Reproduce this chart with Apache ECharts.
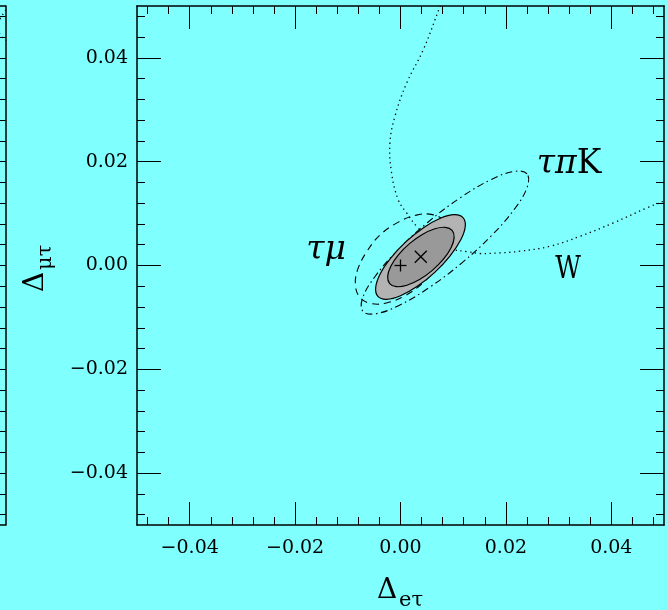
<!DOCTYPE html>
<html>
<head>
<meta charset="utf-8">
<script src="https://cdn.jsdelivr.net/npm/echarts@6/dist/echarts.min.js"></script>
<style>
  html, body { margin: 0; padding: 0; background: #80ffff; }
  #chart { width: 668px; height: 610px; }
</style>
</head>
<body>
<div id="chart"></div>
<script>
// Tick positions and labels (both axes span -0.05 .. 0.05)
const X_MAJOR = [-0.04, -0.02, 0, 0.02, 0.04];
const X_MINOR = [-0.048, -0.044, -0.036, -0.032, -0.028, -0.024, -0.016, -0.012, -0.008, -0.004,
                 0.004, 0.008, 0.012, 0.016, 0.024, 0.028, 0.032, 0.036, 0.044, 0.048];
const Y_MAJOR = [-0.04, -0.02, 0, 0.02, 0.04];
const Y_MINOR = X_MINOR.slice();
const X_TICK_LABELS = ['\u22120.04', '\u22120.02', '0.00', '0.02', '0.04'];
const Y_TICK_LABELS = ['\u22120.04', '\u22120.02', '0.00', '0.02', '0.04'];

// Combined fit: outer and inner confidence regions (Δeτ, Δμτ)
const outerRegion = [
  [0.01185, 0.00923], [0.01020, 0.00979], [0.00756, 0.00910], [0.00437, 0.00729],
  [0.00106, 0.00460], [-0.00182, 0.00146], [-0.00386, -0.00163], [-0.00471, -0.00425],
  [-0.00429, -0.00596], [-0.00264, -0.00652], [0.00000, -0.00583], [0.00319, -0.00402],
  [0.00650, -0.00133], [0.00938, 0.00181], [0.01141, 0.00490], [0.01229, 0.00752]
];
const innerRegion = [
  [0.00980, 0.00675], [0.00853, 0.00735], [0.00653, 0.00708], [0.00414, 0.00598],
  [0.00171, 0.00421], [-0.00040, 0.00206], [-0.00184, -0.00015], [-0.00243, -0.00212],
  [-0.00205, -0.00348], [-0.00078, -0.00408], [0.00122, -0.00381], [0.00361, -0.00271],
  [0.00604, -0.00094], [0.00815, 0.00121], [0.00959, 0.00342], [0.01018, 0.00537]
];
// τμ constraint (dashed)
const tauMuContour = [
  [0.00826, 0.00862], [0.00608, 0.00981], [0.00300, 0.00971], [-0.00049, 0.00831],
  [-0.00391, 0.00585], [-0.00640, 0.00267], [-0.00810, -0.00071], [-0.00855, -0.00379],
  [-0.00772, -0.00612], [-0.00564, -0.00731], [-0.00266, -0.00721], [0.00084, -0.00583],
  [0.00425, -0.00335], [0.00705, -0.00017], [0.00877, 0.00321], [0.00921, 0.00629]
];
// τπK constraint (dash-dot)
const tauPiKContour = [
  [0.02401, 0.01765], [0.02160, 0.01813], [0.01717, 0.01654], [0.01141, 0.01310],
  [0.00520, 0.00833], [-0.00051, 0.00296], [-0.00486, -0.00217], [-0.00720, -0.00631],
  [-0.00714, -0.00881], [-0.00473, -0.00929], [-0.00028, -0.00769], [0.00545, -0.00425],
  [0.01166, 0.00052], [0.01738, 0.00588], [0.02173, 0.01102], [0.02406, 0.01515]
];
// W constraint (dotted, open curve leaving the frame)
const wContour = [
  [0.00824, 0.05190], [0.00748, 0.04987], [0.00431, 0.04154], [0.00116, 0.03513],
  [-0.00106, 0.02871], [-0.00201, 0.02360], [-0.00169, 0.01783], [-0.00044, 0.01269],
  [0.00116, 0.01013], [0.00306, 0.00756], [0.00615, 0.00462], [0.01001, 0.00308],
  [0.01255, 0.00269], [0.01508, 0.00231], [0.01888, 0.00244], [0.02268, 0.00275],
  [0.02838, 0.00371], [0.03407, 0.00563], [0.04040, 0.00821], [0.04674, 0.01110],
  [0.04990, 0.01237], [0.05307, 0.01365]
];
// Reference point and best fit
const smPoint = [[0, 0]];
const bestFit = [[0.00385, 0.00170]];
// Sliver of the neighbouring panel (its right edge)
const neighbourCurve = [
  [0.05066, 0.05000], [0.04991, 0.04904], [0.04896, 0.04750], [0.04782, 0.04595],
  [0.04896, 0.04461], [0.05009, 0.04326]
];

const FONT = 'DejaVu Serif';
const INK = '#000';

function findLabel(values, labels, v) {
  for (let i = 0; i < values.length; i++) {
    if (Math.abs(values[i] - v) < 1e-9) return labels[i];
  }
  return '';
}

function makeAxis(gridIndex, side, ticks, len, showLine, labelCfg, range) {
  return {
    type: 'value', gridIndex: gridIndex, position: side,
    min: range ? range[0] : -0.05, max: range ? range[1] : 0.05,
    axisLine: { show: showLine, onZero: false, lineStyle: { color: INK, width: 1.5 } },
    axisTick: ticks ? { show: true, inside: true, length: len, customValues: ticks,
                         lineStyle: { color: INK, width: 1 } } : { show: false },
    axisLabel: labelCfg || { show: false },
    splitLine: { show: false },
    minorTick: { show: false }
  };
}

const xLabel = {
  show: true, customValues: X_MAJOR, margin: 14,
  fontFamily: FONT, fontSize: 19, color: INK,
  formatter: v => findLabel(X_MAJOR, X_TICK_LABELS, v)
};
const yLabel = {
  show: true, customValues: Y_MAJOR, margin: 9,
  fontFamily: FONT, fontSize: 19, color: INK,
  formatter: v => findLabel(Y_MAJOR, Y_TICK_LABELS, v)
};

const NEIGHBOUR_X = [0.048956, 0.05];
const xAxes = [
  makeAxis(0, 'bottom', X_MAJOR, 23, true, xLabel),
  makeAxis(0, 'bottom', X_MINOR, 8, false),
  makeAxis(0, 'top', X_MAJOR, 23, true),
  makeAxis(0, 'top', X_MINOR, 8, false),
  makeAxis(1, 'bottom', null, 0, true, null, NEIGHBOUR_X),
  makeAxis(1, 'top', null, 0, true, null, NEIGHBOUR_X)
];
const yAxes = [
  makeAxis(0, 'left', Y_MAJOR, 24, true, yLabel),
  makeAxis(0, 'left', Y_MINOR, 8, false),
  makeAxis(0, 'right', Y_MAJOR, 24, true),
  makeAxis(0, 'right', Y_MINOR, 8, false),
  makeAxis(1, 'right', Y_MAJOR, 24, true),
  makeAxis(1, 'right', Y_MINOR, 8, false)
];

function contour(points, style, closed) {
  return {
    type: 'custom', coordinateSystem: 'cartesian2d',
    xAxisIndex: 0, yAxisIndex: 0, clip: true, silent: true,
    data: [[0, 0]],
    renderItem: function (params, api) {
      return {
        type: closed ? 'polygon' : 'polyline',
        shape: { points: points.map(p => api.coord(p)), smooth: 0.4 },
        style: style
      };
    }
  };
}

function marker(points, kind) {
  return {
    type: 'custom', coordinateSystem: 'cartesian2d',
    xAxisIndex: 0, yAxisIndex: 0, silent: true, z: 5,
    data: points,
    renderItem: function (params, api) {
      const c = api.coord([api.value(0), api.value(1)]);
      const h = 6;
      const segs = kind === 'plus'
        ? [[c[0] - h, c[1], c[0] + h, c[1]], [c[0], c[1] - h, c[0], c[1] + h]]
        : [[c[0] - h, c[1] - h, c[0] + h, c[1] + h], [c[0] - h, c[1] + h, c[0] + h, c[1] - h]];
      return {
        type: 'group',
        children: segs.map(s => ({
          type: 'line', shape: { x1: s[0], y1: s[1], x2: s[2], y2: s[3] },
          style: { stroke: INK, lineWidth: 1.3 }
        }))
      };
    }
  };
}

const series = [
  contour(wContour, { fill: 'none', stroke: INK, lineWidth: 1.3, lineDash: [1.3, 3.6] }, false),
  contour(tauPiKContour, { fill: 'none', stroke: INK, lineWidth: 1.1, lineDash: [7, 3.5, 1.5, 3.5] }, true),
  contour(tauMuContour, { fill: 'none', stroke: INK, lineWidth: 1.1, lineDash: [7, 5] }, true),
  contour(outerRegion, { fill: '#b3b3b3', stroke: INK, lineWidth: 1.2 }, true),
  contour(innerRegion, { fill: '#999999', stroke: INK, lineWidth: 1.2 }, true),
  marker(smPoint, 'plus'),
  marker(bestFit, 'cross'),
  {
    type: 'line', xAxisIndex: 4, yAxisIndex: 4, data: neighbourCurve,
    smooth: true, showSymbol: false, clip: true, silent: true,
    lineStyle: { color: INK, width: 1.2, type: [1.3, 3.6] }
  }
];

const greek = { fontFamily: FONT, fontStyle: 'italic', fontSize: 33, fill: INK };
const graphic = [
  { type: 'text', x: 569, y: 164, style: {
      text: '{g|\u03c4\u03c0}{r|K}', textAlign: 'center', textVerticalAlign: 'middle',
      rich: { g: greek, r: { fontFamily: FONT, fontSize: 33, fill: INK } } } },
  { type: 'text', x: 326, y: 250, style: {
      text: '{g|\u03c4\u03bc}', textAlign: 'center', textVerticalAlign: 'middle',
      rich: { g: greek } } },
  { type: 'text', x: 568, y: 270, scaleX: 0.78, style: { text: 'W', font: '32px "DejaVu Serif"', fill: INK, textAlign: 'center', textVerticalAlign: 'middle' } },
  {
    type: 'group', x: 387, y: 591,
    children: [
      { type: 'text', x: 0, y: 0, style: { text: '\u0394', font: '28px "DejaVu Serif"', fill: INK, textAlign: 'center', textVerticalAlign: 'middle' } },
      { type: 'text', x: 12, y: 10, style: { text: 'e\u03c4', font: '21px "DejaVu Serif"', fill: INK, textAlign: 'left', textVerticalAlign: 'middle' } }
    ]
  },
  {
    type: 'group', x: 36, y: 282, rotation: Math.PI / 2,
    children: [
      { type: 'text', x: 0, y: 0, style: { text: '\u0394', font: '28px "DejaVu Serif"', fill: INK, textAlign: 'center', textVerticalAlign: 'middle' } },
      { type: 'text', x: 12, y: 10, style: { text: '\u03bc\u03c4', font: '21px "DejaVu Serif"', fill: INK, textAlign: 'left', textVerticalAlign: 'middle' } }
    ]
  }
];

const chart = echarts.init(document.getElementById('chart'), null, { renderer: 'canvas' });
chart.setOption({
  backgroundColor: '#80ffff',
  animation: false,
  grid: [
    { left: 137, top: 6, width: 527, height: 519 },
    { left: 0, top: 6, width: 5.5, height: 519 }
  ],
  xAxis: xAxes,
  yAxis: yAxes,
  series: series,
  graphic: graphic
});
</script>
</body>
</html>
